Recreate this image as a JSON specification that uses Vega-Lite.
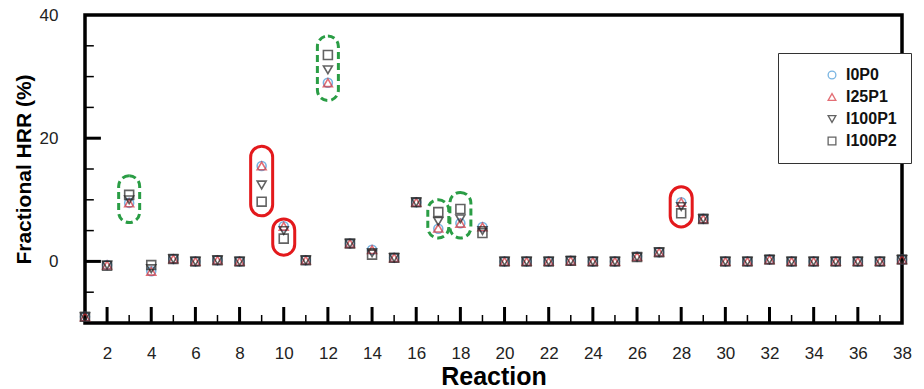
{
  "$schema": "https://vega.github.io/schema/vega-lite/v6.json",
  "autosize": "none",
  "width": 827,
  "height": 308,
  "padding": {"left": 80, "top": 15, "right": 17, "bottom": 66},
  "config": {
    "view": {"stroke": null},
    "font": "Liberation Sans",
    "axis": {"grid": false, "domain": false, "ticks": false, "labelColor": "#222", "labelFontSize": 17, "labelFont": "Liberation Sans", "titleFont": "Liberation Sans", "titleColor": "black", "titleFontWeight": "bold"}
  },
  "datasets": {
    "pts": [
      {"r": 1, "I0P0": -9, "I25P1": -9, "I100P1": -9, "I100P2": -9},
      {"r": 2, "I0P0": -0.6, "I25P1": -0.6, "I100P1": -0.6, "I100P2": -0.7},
      {"r": 3, "I0P0": 9.5, "I25P1": 9.5, "I100P1": 10.0, "I100P2": 10.8},
      {"r": 4, "I0P0": -1.6, "I25P1": -1.6, "I100P1": -1.2, "I100P2": -0.6},
      {"r": 5, "I0P0": 0.4, "I25P1": 0.4, "I100P1": 0.4, "I100P2": 0.4},
      {"r": 6, "I0P0": 0, "I25P1": 0, "I100P1": 0, "I100P2": 0},
      {"r": 7, "I0P0": 0.2, "I25P1": 0.2, "I100P1": 0.2, "I100P2": 0.2},
      {"r": 8, "I0P0": 0, "I25P1": 0, "I100P1": 0, "I100P2": 0},
      {"r": 9, "I0P0": 15.5, "I25P1": 15.5, "I100P1": 12.4, "I100P2": 9.7},
      {"r": 10, "I0P0": 5.7, "I25P1": 5.7, "I100P1": 5.0, "I100P2": 3.7},
      {"r": 11, "I0P0": 0.2, "I25P1": 0.2, "I100P1": 0.2, "I100P2": 0.2},
      {"r": 12, "I0P0": 29.0, "I25P1": 29.0, "I100P1": 31.1, "I100P2": 33.5},
      {"r": 13, "I0P0": 2.9, "I25P1": 2.9, "I100P1": 2.9, "I100P2": 2.9},
      {"r": 14, "I0P0": 1.9, "I25P1": 1.9, "I100P1": 1.4, "I100P2": 1.1},
      {"r": 15, "I0P0": 0.6, "I25P1": 0.6, "I100P1": 0.6, "I100P2": 0.6},
      {"r": 16, "I0P0": 9.6, "I25P1": 9.6, "I100P1": 9.6, "I100P2": 9.6},
      {"r": 17, "I0P0": 5.3, "I25P1": 5.4, "I100P1": 6.5, "I100P2": 8.0},
      {"r": 18, "I0P0": 6.2, "I25P1": 6.2, "I100P1": 6.9, "I100P2": 8.5},
      {"r": 19, "I0P0": 5.6, "I25P1": 5.6, "I100P1": 5.0, "I100P2": 4.6},
      {"r": 20, "I0P0": 0, "I25P1": 0, "I100P1": 0, "I100P2": 0},
      {"r": 21, "I0P0": 0, "I25P1": 0, "I100P1": 0, "I100P2": 0},
      {"r": 22, "I0P0": 0, "I25P1": 0, "I100P1": 0, "I100P2": 0},
      {"r": 23, "I0P0": 0.1, "I25P1": 0.1, "I100P1": 0.1, "I100P2": 0.1},
      {"r": 24, "I0P0": 0, "I25P1": 0, "I100P1": 0, "I100P2": 0},
      {"r": 25, "I0P0": 0, "I25P1": 0, "I100P1": 0, "I100P2": 0},
      {"r": 26, "I0P0": 0.8, "I25P1": 0.8, "I100P1": 0.7, "I100P2": 0.7},
      {"r": 27, "I0P0": 1.5, "I25P1": 1.5, "I100P1": 1.5, "I100P2": 1.5},
      {"r": 28, "I0P0": 9.6, "I25P1": 9.6, "I100P1": 8.9, "I100P2": 7.8},
      {"r": 29, "I0P0": 6.9, "I25P1": 6.9, "I100P1": 6.9, "I100P2": 6.9},
      {"r": 30, "I0P0": 0, "I25P1": 0, "I100P1": 0, "I100P2": 0},
      {"r": 31, "I0P0": 0, "I25P1": 0, "I100P1": 0, "I100P2": 0},
      {"r": 32, "I0P0": 0.3, "I25P1": 0.3, "I100P1": 0.3, "I100P2": 0.3},
      {"r": 33, "I0P0": 0, "I25P1": 0, "I100P1": 0, "I100P2": 0},
      {"r": 34, "I0P0": 0, "I25P1": 0, "I100P1": 0, "I100P2": 0},
      {"r": 35, "I0P0": 0, "I25P1": 0, "I100P1": 0, "I100P2": 0},
      {"r": 36, "I0P0": 0, "I25P1": 0, "I100P1": 0, "I100P2": 0},
      {"r": 37, "I0P0": 0, "I25P1": 0, "I100P1": 0, "I100P2": 0},
      {"r": 38, "I0P0": 0.3, "I25P1": 0.3, "I100P1": 0.3, "I100P2": 0.3}
    ],
    "marks": [
      {"r": 3, "lo": 6.3, "hi": 13.9, "kind": "green"},
      {"r": 12, "lo": 26.1, "hi": 36.6, "kind": "green"},
      {"r": 17, "lo": 3.8, "hi": 10.0, "kind": "green"},
      {"r": 18, "lo": 3.8, "hi": 11.2, "kind": "green"},
      {"r": 9, "lo": 7.4, "hi": 18.7, "kind": "red"},
      {"r": 10, "lo": 1.0, "hi": 6.9, "kind": "red"},
      {"r": 28, "lo": 5.6, "hi": 12.1, "kind": "red"}
    ],
    "xticks": [
      {"t": 2, "major": true}, {"t": 3, "major": false}, {"t": 4, "major": true}, {"t": 5, "major": false},
      {"t": 6, "major": true}, {"t": 7, "major": false}, {"t": 8, "major": true}, {"t": 9, "major": false},
      {"t": 10, "major": true}, {"t": 11, "major": false}, {"t": 12, "major": true}, {"t": 13, "major": false},
      {"t": 14, "major": true}, {"t": 15, "major": false}, {"t": 16, "major": true}, {"t": 17, "major": false},
      {"t": 18, "major": true}, {"t": 19, "major": false}, {"t": 20, "major": true}, {"t": 21, "major": false},
      {"t": 22, "major": true}, {"t": 23, "major": false}, {"t": 24, "major": true}, {"t": 25, "major": false},
      {"t": 26, "major": true}, {"t": 27, "major": false}, {"t": 28, "major": true}, {"t": 29, "major": false},
      {"t": 30, "major": true}, {"t": 31, "major": false}, {"t": 32, "major": true}, {"t": 33, "major": false},
      {"t": 34, "major": true}, {"t": 35, "major": false}, {"t": 36, "major": true}, {"t": 37, "major": false}
    ],
    "yticks": [
      {"v": -5, "major": false}, {"v": 0, "major": true}, {"v": 5, "major": false}, {"v": 10, "major": false},
      {"v": 15, "major": false}, {"v": 20, "major": true}, {"v": 25, "major": false}, {"v": 30, "major": false}, {"v": 35, "major": false}
    ]
  },
  "encoding": {
    "x": {
      "type": "quantitative",
      "scale": {"domain": [1, 38], "nice": false, "zero": false},
      "axis": {
        "title": "Reaction", "titleFontSize": 25, "titlePadding": 3,
        "values": [2,4,6,8,10,12,14,16,18,20,22,24,26,28,30,32,34,36,38],
        "labelPadding": 22
      }
    },
    "y": {
      "type": "quantitative",
      "scale": {"domain": [-10, 40], "nice": false, "zero": false},
      "axis": {
        "title": "Fractional HRR (%)", "titleFontSize": 21, "titlePadding": 5,
        "values": [0, 20, 40],
        "labelPadding": 22
      }
    }
  },
  "layer": [
    {
      "data": {"name": "xticks"},
      "transform": [{"filter": "datum.major"}],
      "mark": {"type": "rule", "color": "black", "strokeWidth": 3},
      "encoding": {"x": {"field": "t"}, "y": {"datum": -10}, "y2": {"datum": -7.4}}
    },
    {
      "data": {"name": "xticks"},
      "transform": [{"filter": "!datum.major"}],
      "mark": {"type": "rule", "color": "black", "strokeWidth": 1.5},
      "encoding": {"x": {"field": "t"}, "y": {"datum": -10}, "y2": {"datum": -8.7}}
    },
    {
      "data": {"name": "yticks"},
      "transform": [{"filter": "datum.major"}],
      "mark": {"type": "rule", "color": "black", "strokeWidth": 3},
      "encoding": {"y": {"field": "v"}, "x": {"datum": 1}, "x2": {"datum": 1.72}}
    },
    {
      "data": {"name": "yticks"},
      "transform": [{"filter": "!datum.major"}],
      "mark": {"type": "rule", "color": "black", "strokeWidth": 1.5},
      "encoding": {"y": {"field": "v"}, "x": {"datum": 1}, "x2": {"datum": 1.4}}
    },
    {
      "data": {"name": "marks"},
      "transform": [{"filter": "datum.kind === 'green'"}],
      "mark": {"type": "bar", "width": 21, "cornerRadius": 10.5, "fill": "transparent", "stroke": "#2a9d45", "strokeWidth": 3, "strokeDash": [7, 4]},
      "encoding": {"x": {"field": "r"}, "y": {"field": "lo"}, "y2": {"field": "hi"}}
    },
    {
      "data": {"name": "marks"},
      "transform": [{"filter": "datum.kind === 'red'"}],
      "mark": {"type": "bar", "width": 22, "cornerRadius": 11, "fill": "transparent", "stroke": "#e3191c", "strokeWidth": 3},
      "encoding": {"x": {"field": "r"}, "y": {"field": "lo"}, "y2": {"field": "hi"}}
    },
    {
      "data": {"values": [{"a": 1}]},
      "mark": {"type": "rect", "fill": "transparent", "stroke": "#000000", "strokeWidth": 3.5},
      "encoding": {"x": {"datum": 1}, "x2": {"datum": 38}, "y": {"datum": -10}, "y2": {"datum": 40}}
    },
    {
      "data": {"name": "pts"},
      "transform": [{"fold": ["I0P0", "I25P1", "I100P1", "I100P2"], "as": ["series", "v"]}],
      "mark": {"type": "point", "filled": false, "size": 80, "strokeWidth": 1.6},
      "encoding": {
        "x": {"field": "r"},
        "y": {"field": "v"},
        "shape": {"field": "series", "type": "nominal", "scale": {"domain": ["I0P0", "I25P1", "I100P1", "I100P2"], "range": ["circle", "triangle-up", "triangle-down", "square"]}, "legend": null},
        "color": {"field": "series", "type": "nominal", "scale": {"domain": ["I0P0", "I25P1", "I100P1", "I100P2"], "range": ["#3f95d6", "#d8323b", "#222222", "#222222"]},
          "legend": {"title": null, "orient": "none", "legendX": 698, "legendY": 38, "padding": 14, "strokeColor": "#333", "fillColor": "white", "labelFontSize": 16, "labelFontWeight": "bold", "labelColor": "#111", "symbolOffset": 32, "symbolSize": 60, "symbolStrokeWidth": 1.3, "rowPadding": 6, "labelOffset": 6}}
      }
    }
  ]
}
